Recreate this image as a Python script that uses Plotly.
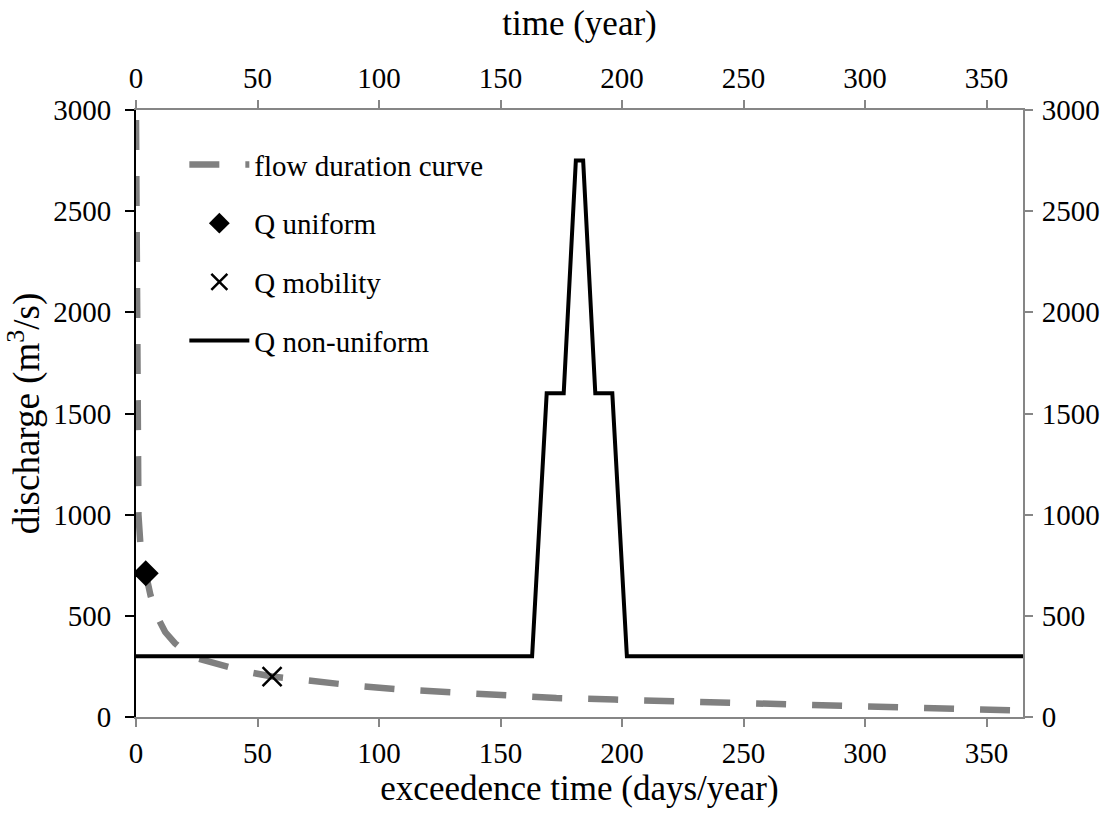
import plotly.graph_objects as go

# flow duration curve (exceedence days/year vs discharge m3/s)
fdc_x = [0, 0.3, 0.6, 1, 2, 4, 6, 9, 12, 16, 20, 25, 35, 45, 56, 70, 90, 110, 130, 150, 173, 197, 220, 243, 266, 289, 313, 336, 350, 360, 365]
fdc_y = [2950, 2000, 1300, 1000, 820, 700, 600, 490, 420, 365, 325, 290, 255, 225, 200, 180, 155, 135, 120, 104, 94, 86, 79, 72, 66, 59, 53, 45, 40, 33, 15]

# Q uniform and Q mobility points
qu_x = [4]
qu_y = [710]
qm_x = [56]
qm_y = [200]

# Q non-uniform hydrograph (time in days of year vs discharge)
qn_x = [0, 163, 169, 176, 181, 184, 189, 196, 202, 365]
qn_y = [300, 300, 1600, 1600, 2750, 2750, 1600, 1600, 300, 300]

x_ticks = [0, 50, 100, 150, 200, 250, 300, 350]
y_ticks = [0, 500, 1000, 1500, 2000, 2500, 3000]

FONT = "Liberation Serif, Times New Roman, serif"
GRAY = "#868686"
TICK_SIZE = 29
TITLE_SIZE = 35

fig = go.Figure()
fig.add_trace(go.Scatter(x=fdc_x, y=fdc_y, mode="lines", name="flow duration curve",
                         line=dict(color="#808080", width=6.5, dash="30px,26px"),
                         legendgroup="a"))
fig.add_trace(go.Scatter(x=qu_x, y=qu_y, mode="markers", name="Q uniform",
                         marker=dict(symbol="diamond", size=20, color="black"),
                         legendgroup="b"))
fig.add_trace(go.Scatter(x=qm_x, y=qm_y, mode="markers", name="Q mobility",
                         marker=dict(symbol="x-thin", size=19, color="black",
                                     line=dict(color="black", width=2.5)),
                         legendgroup="c"))
fig.add_trace(go.Scatter(x=qn_x, y=qn_y, mode="lines", name="Q non-uniform",
                         line=dict(color="black", width=4), xaxis="x2", yaxis="y2",
                         legendgroup="d"))

axis_common = dict(range=[0, 365], tickvals=x_ticks, showgrid=False, zeroline=False,
                   ticks="outside", ticklen=8, tickwidth=1.5, tickcolor=GRAY,
                   showline=True, linecolor=GRAY, linewidth=2,
                   tickfont=dict(family=FONT, size=TICK_SIZE, color="black"))

fig.update_layout(
    width=1115, height=823,
    margin=dict(l=136, r=92, t=110, b=106),
    paper_bgcolor="white", plot_bgcolor="white",
    font=dict(family=FONT, size=TICK_SIZE, color="black"),
    xaxis=dict(**axis_common, ticklabelstandoff=1,
               title=dict(text="exceedence time (days/year)", font=dict(family=FONT, size=TITLE_SIZE), standoff=8)),
    xaxis2=dict(**axis_common, overlaying="x", side="top",
                title=dict(text="time (year)", font=dict(family=FONT, size=TITLE_SIZE), standoff=16)),
    yaxis=dict(range=[0, 3000], tickvals=y_ticks, showgrid=False, zeroline=False,
               ticks="outside", ticklen=9, tickwidth=1.5, tickcolor="black",
               showline=True, linecolor="black", linewidth=2, ticklabelstandoff=8,
               tickfont=dict(family=FONT, size=TICK_SIZE, color="black"),
               title=dict(text="discharge (m<sup>3</sup>/s)", font=dict(family=FONT, size=37), standoff=2)),
    yaxis2=dict(range=[0, 3000], tickvals=y_ticks, overlaying="y", side="right",
                showgrid=False, zeroline=False,
                ticks="outside", ticklen=8, tickwidth=1.5, tickcolor=GRAY,
                showline=True, linecolor=GRAY, linewidth=2, ticklabelstandoff=3,
                tickfont=dict(family=FONT, size=TICK_SIZE, color="black")),
    legend=dict(x=0.0545, y=0.952, xanchor="left", yanchor="top",
                bgcolor="rgba(0,0,0,0)", borderwidth=0,
                font=dict(family=FONT, size=TICK_SIZE, color="black"),
                tracegroupgap=18, itemwidth=60),
    showlegend=True,
)

fig.write_html("out.html")
